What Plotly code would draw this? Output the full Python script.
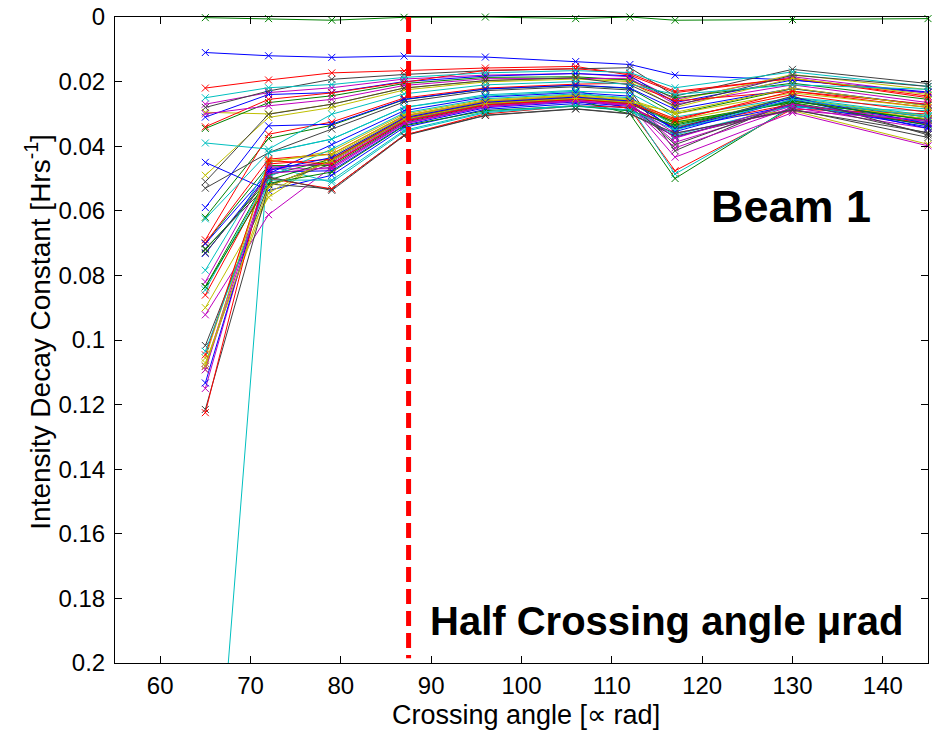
import plotly.graph_objects as go

# Crossing angle values at which the decay constant was measured
crossing_angle = [65, 72, 79, 87, 96, 106, 112, 117, 130, 145]
half_crossing_angle = 87.5

# Intensity decay constant of every bunch/fill at each crossing angle (one list per angle)
decay_65 = [0.011, 0.0002, 0.022, 0.29, 0.027, 0.0295, 0.028, 0.031, 0.0345, 0.034, 0.025, 0.030, 0.049, 0.051, 0.045,
            0.062, 0.069, 0.039, 0.082, 0.090, 0.053, 0.059, 0.070, 0.070, 0.0625, 0.0922, 0.1056, 0.0717, 0.0702, 0.0835,
            0.0861, 0.0784, 0.1082, 0.1071, 0.1017, 0.0732, 0.072, 0.1046, 0.0845, 0.115, 0.1092, 0.1215, 0.1133, 0.0835,
            0.1225, 0.1035, 0.1092, 0.108, 0.073]
decay_72 = [0.012, 0.0005, 0.0195, 0.042, 0.0234, 0.030, 0.0229, 0.024, 0.0265, 0.0255, 0.0219, 0.0275, 0.0311, 0.0301,
            0.0537, 0.0376, 0.0363, 0.0409, 0.047, 0.0558, 0.042, 0.0337, 0.046, 0.044, 0.0419, 0.0612, 0.045, 0.0517,
            0.048, 0.049, 0.050, 0.046, 0.047, 0.0545, 0.052, 0.0485, 0.0505, 0.0455, 0.0495, 0.0465, 0.0445, 0.0525,
            0.0475, 0.0515, 0.0445, 0.0505, 0.0485, 0.0525, 0.0495]
decay_79 = [0.0125, 0.001, 0.0173, 0.0378, 0.0219, 0.027, 0.0193, 0.0234, 0.0244, 0.0235, 0.0209, 0.0255, 0.028, 0.027,
            0.049, 0.0335, 0.0325, 0.0301, 0.045, 0.043, 0.0347, 0.0332, 0.046, 0.0424, 0.0378, 0.0465, 0.0415, 0.0532,
            0.0476, 0.044, 0.0532, 0.0512, 0.047, 0.0435, 0.0455, 0.0395, 0.0445, 0.044, 0.0409, 0.0455, 0.0425, 0.0445,
            0.0435, 0.048, 0.0455, 0.0505, 0.0465, 0.0445, 0.0537]
decay_87 = [0.0121, 0.0001, 0.0167, 0.0280, 0.0192, 0.0220, 0.0178, 0.0200, 0.0206, 0.0201, 0.0187, 0.0212, 0.0226,
            0.0220, 0.0342, 0.0256, 0.0251, 0.0238, 0.0320, 0.0309, 0.0263, 0.0255, 0.0326, 0.0306, 0.0280, 0.0329,
            0.0301, 0.0366, 0.0335, 0.0315, 0.0366, 0.0355, 0.0331, 0.0312, 0.0323, 0.0290, 0.0317, 0.0315, 0.0297,
            0.0323, 0.0306, 0.0317, 0.0312, 0.0337, 0.0323, 0.0351, 0.0329, 0.0317, 0.0368]
decay_96 = [0.0124, 0.0, 0.0158, 0.0245, 0.0180, 0.0197, 0.0166, 0.0183, 0.0187, 0.0165, 0.0173, 0.0191, 0.0201, 0.0197,
            0.0286, 0.0223, 0.0220, 0.0210, 0.0270, 0.0262, 0.0228, 0.0223, 0.0274, 0.0260, 0.0241, 0.0277, 0.0256,
            0.0304, 0.0281, 0.0266, 0.0300, 0.0296, 0.0278, 0.0264, 0.0272, 0.0248, 0.0268, 0.0266, 0.0253, 0.0272,
            0.0260, 0.0268, 0.0264, 0.0290, 0.0272, 0.0293, 0.0277, 0.0268, 0.0305]
decay_106 = [0.0138, 0.0005, 0.0153, 0.0230, 0.0175, 0.0188, 0.0161, 0.0175, 0.0185, 0.0160, 0.0166, 0.0190, 0.0192,
             0.0188, 0.0268, 0.0212, 0.0208, 0.0200, 0.0254, 0.0246, 0.0216, 0.0211, 0.0257, 0.0244, 0.0227, 0.0259,
             0.0241, 0.0284, 0.0263, 0.0250, 0.0275, 0.0276, 0.0261, 0.0248, 0.0255, 0.0234, 0.0252, 0.0250, 0.0238,
             0.0255, 0.0244, 0.0252, 0.0248, 0.0275, 0.0255, 0.0274, 0.0259, 0.0252, 0.0285]
decay_112 = [0.0147, 0.0, 0.0180, 0.0235, 0.0185, 0.0196, 0.0157, 0.0182, 0.0195, 0.0175, 0.0172, 0.0190, 0.0200, 0.0210,
             0.0282, 0.0221, 0.0205, 0.0208, 0.0266, 0.0258, 0.0226, 0.0220, 0.0300, 0.0285, 0.0275, 0.0272, 0.0253,
             0.0299, 0.0277, 0.0263, 0.0280, 0.0291, 0.0274, 0.0260, 0.0268, 0.0245, 0.0270, 0.0263, 0.0250, 0.0268,
             0.0256, 0.0264, 0.0260, 0.0290, 0.0268, 0.0288, 0.0272, 0.0264, 0.0300]
decay_117 = [0.018, 0.001, 0.0234, 0.0310, 0.0255, 0.0260, 0.0245, 0.0265, 0.0250, 0.0230, 0.0219, 0.0270, 0.0280, 0.0275,
             0.0373, 0.0300, 0.0260, 0.0240, 0.0388, 0.0326, 0.0414, 0.0286, 0.0500, 0.0476, 0.0486, 0.0434, 0.0320,
             0.0369, 0.0346, 0.0331, 0.0340, 0.0365, 0.0405, 0.0328, 0.0395, 0.0355, 0.0325, 0.0315, 0.0340, 0.0375,
             0.0300, 0.0345, 0.0348, 0.0335, 0.0320, 0.0350, 0.0360, 0.0295, 0.0360]
decay_130 = [0.0195, 0.0008, 0.0190, 0.0250, 0.0185, 0.0178, 0.0162, 0.0195, 0.0205, 0.0190, 0.0170, 0.0210, 0.0190,
             0.0180, 0.0270, 0.0222, 0.0230, 0.0210, 0.0275, 0.0290, 0.0260, 0.0221, 0.0275, 0.0285, 0.0280, 0.0296,
             0.0252, 0.0285, 0.0274, 0.0261, 0.0270, 0.0275, 0.0280, 0.0259, 0.0266, 0.0255, 0.0265, 0.0240, 0.0249,
             0.0270, 0.0235, 0.0245, 0.0250, 0.0260, 0.0230, 0.0255, 0.0290, 0.0220, 0.0288]
decay_145 = [0.0235, 0.0005, 0.0250, 0.0285, 0.0235, 0.0225, 0.0206, 0.0232, 0.0255, 0.0245, 0.0215, 0.0265, 0.0240,
             0.0215, 0.0340, 0.0274, 0.0280, 0.0224, 0.0330, 0.0394, 0.0310, 0.0273, 0.0315, 0.0300, 0.0290, 0.0399,
             0.0308, 0.0373, 0.0333, 0.0318, 0.0330, 0.0325, 0.0345, 0.0316, 0.0360, 0.0345, 0.0335, 0.0295, 0.0305,
             0.0324, 0.0280, 0.0365, 0.0330, 0.0320, 0.0270, 0.0310, 0.0320, 0.0275, 0.0358]

x_tick_vals = [60, 70, 80, 90, 100, 110, 120, 130, 140]
y_tick_vals = [0, 0.02, 0.04, 0.06, 0.08, 0.1, 0.12, 0.14, 0.16, 0.18, 0.2]
y_tick_text = ["0", "0.02", "0.04", "0.06", "0.08", "0.1", "0.12", "0.14", "0.16", "0.18", "0.2"]

columns = [decay_65, decay_72, decay_79, decay_87, decay_96, decay_106, decay_112, decay_117, decay_130, decay_145]
n_series = len(decay_65)
assert all(len(c) == n_series for c in columns)

matlab_colors = ["rgb(0,0,255)", "rgb(0,128,0)", "rgb(255,0,0)", "rgb(0,191,191)",
                 "rgb(191,0,191)", "rgb(191,191,0)", "rgb(64,64,64)"]

FONT = "Liberation Sans, Arial, Helvetica, sans-serif"

fig = go.Figure()
for i in range(n_series):
    col = matlab_colors[i % 7]
    fig.add_trace(go.Scatter(
        x=crossing_angle, y=[c[i] for c in columns], mode="lines+markers",
        line=dict(color=col, width=1),
        marker=dict(symbol="x-thin", size=7, color=col, line=dict(color=col, width=1)),
        cliponaxis=False, showlegend=False, hoverinfo="skip"))

fig.add_trace(go.Scatter(
    x=[half_crossing_angle, half_crossing_angle], y=[0, 0.1985], mode="lines",
    line=dict(color="rgb(255,0,0)", width=5, dash="15px,7px"),
    showlegend=False, hoverinfo="skip"))

axis_common = dict(showline=True, linecolor="black", linewidth=1, mirror="ticks", ticks="inside",
                   ticklen=7, tickcolor="black", showgrid=False, zeroline=False,
                   tickfont=dict(family=FONT, size=24, color="black"))

fig.update_layout(
    width=932, height=732,
    margin=dict(l=115, r=3, t=14, b=69),
    paper_bgcolor="white", plot_bgcolor="white",
    font=dict(family=FONT, color="black"),
    xaxis=dict(range=[55, 145], tickvals=x_tick_vals, ticklabelstandoff=1, **axis_common),
    yaxis=dict(range=[0.2, 0], tickvals=y_tick_vals, ticktext=y_tick_text, ticklabelstandoff=4, **axis_common),
    annotations=[
        dict(text="Crossing angle [∝ rad]", xref="paper", yref="paper", x=0.505, y=-0.1075,
             xanchor="center", yanchor="bottom", showarrow=False, font=dict(family=FONT, size=27)),
        dict(text="Intensity Decay Constant [Hrs<sup>-1</sup>]", xref="paper", yref="paper", x=-0.0946, y=0.513,
             xanchor="center", yanchor="middle", textangle=-90, showarrow=False, font=dict(family=FONT, size=28)),
        dict(text="<b>Beam 1</b>", xref="paper", yref="paper", x=0.831, y=0.707,
             xanchor="center", yanchor="middle", showarrow=False, font=dict(family=FONT, size=45)),
        dict(text="<b>Half Crossing angle μrad</b>", xref="paper", yref="paper", x=0.678, y=0.0647,
             xanchor="center", yanchor="middle", showarrow=False, font=dict(family=FONT, size=40)),
    ],
)

fig.write_html("out.html")
